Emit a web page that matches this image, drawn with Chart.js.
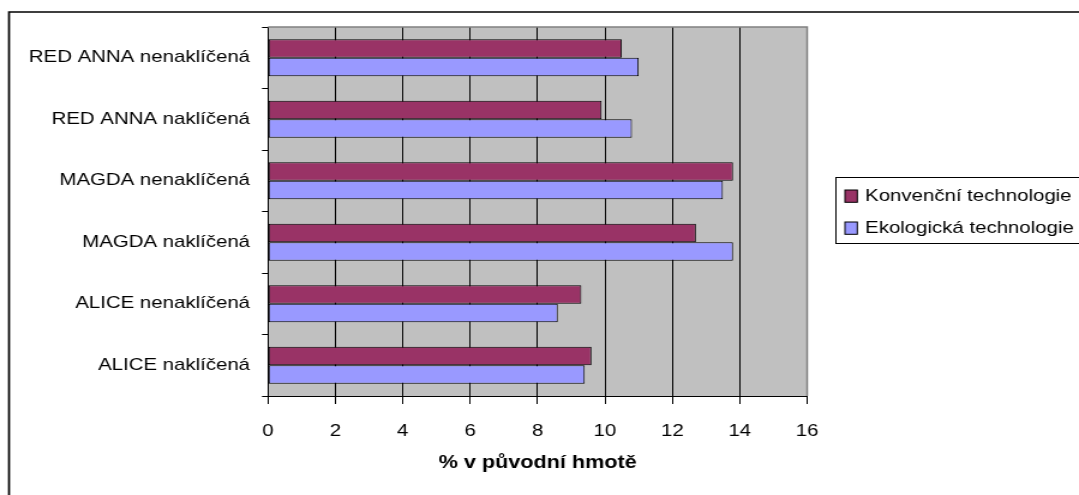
<!DOCTYPE html>
<html>
<head>
<meta charset="utf-8">
<script src="https://cdn.jsdelivr.net/npm/chart.js@4/dist/chart.umd.min.js"></script>
<style>
  html, body { margin: 0; padding: 0; background: #fff; overflow: hidden; }
  #wrap { width: 1079px; height: 495px; overflow: hidden; }
  /* the chart is laid out on a narrower canvas and widened horizontally */
  #c { display: block; transform: scaleX(1.2002); transform-origin: 0 0; }
</style>
</head>
<body>
<div id="wrap"><canvas id="c" width="899" height="495"></canvas></div>
<script>
const categories = [
  'RED ANNA nenaklíčená',
  'RED ANNA naklíčená',
  'MAGDA nenaklíčená',
  'MAGDA naklíčená',
  'ALICE nenaklíčená',
  'ALICE naklíčená'
];
const seriesNames = ['Konvenční technologie', 'Ekologická technologie'];
const konvencni = [10.5, 9.9, 13.8, 12.7, 9.3, 9.6];
const ekologicka = [11.0, 10.8, 13.5, 13.8, 8.6, 9.4];
const xMin = 0, xMax = 16, xStep = 2;
const axisTitle = '% v původní hmotě';

const FONT = "'Liberation Sans', Arial, sans-serif";
const W = 899, H = 495;

const framePlugin = {
  id: 'frame',
  beforeDraw(chart) {
    const { ctx, chartArea: a } = chart;
    ctx.save();
    ctx.fillStyle = '#fff';
    ctx.fillRect(0, 0, W, H);
    ctx.fillStyle = '#C0C0C0';
    ctx.fillRect(a.left, a.top, a.right - a.left, a.bottom - a.top);
    ctx.restore();
  },
  afterDraw(chart) {
    const { ctx, chartArea: a } = chart;
    ctx.save();
    // plot area top and right edge
    ctx.strokeStyle = '#808080';
    ctx.lineWidth = 1.5;
    ctx.beginPath();
    ctx.moveTo(a.left, a.top);
    ctx.lineTo(a.right, a.top);
    ctx.lineTo(a.right, a.bottom);
    ctx.stroke();
    // outer chart frame
    ctx.strokeStyle = '#000';
    ctx.lineWidth = 1.7;
    ctx.beginPath();
    ctx.moveTo(7.5, H + 5);
    ctx.lineTo(7.5, 12);
    ctx.lineTo(W + 5, 12);
    ctx.stroke();
    // legend
    ctx.lineWidth = 1;
    ctx.strokeRect(696.5, 177.5, 260, 66);
    ctx.font = '17px ' + FONT;
    ctx.textBaseline = 'middle';
    ctx.textAlign = 'left';
    const rows = [196, 228];
    chart.data.datasets.forEach((ds, i) => {
      const cy = rows[i];
      ctx.fillStyle = ds.backgroundColor;
      ctx.fillRect(704, cy - 6, 10.3, 12.3);
      ctx.strokeStyle = '#000';
      ctx.strokeRect(704, cy - 6, 10.3, 12.3);
      ctx.fillStyle = '#000';
      ctx.fillText(ds.label, 720.8, cy);
    });
    ctx.restore();
  }
};

new Chart(document.getElementById('c'), {
  type: 'bar',
  data: {
    labels: categories,
    datasets: [
      {
        label: seriesNames[0],
        data: konvencni,
        backgroundColor: '#993366',
        borderColor: '#000',
        borderWidth: 1,
        borderSkipped: false
      },
      {
        label: seriesNames[1],
        data: ekologicka,
        backgroundColor: '#9999FF',
        borderColor: '#000',
        borderWidth: 1,
        borderSkipped: false
      }
    ]
  },
  options: {
    indexAxis: 'y',
    responsive: false,
    animation: false,
    devicePixelRatio: 1,
    categoryPercentage: 0.6,
    barPercentage: 1.0,
    layout: { padding: { left: 0, top: 27, right: W - 672.5, bottom: 0 } },
    plugins: {
      legend: { display: false },
      tooltip: { enabled: false },
      title: { display: false }
    },
    scales: {
      x: {
        type: 'linear',
        min: xMin,
        max: xMax,
        ticks: {
          stepSize: xStep,
          color: '#000',
          padding: 17,
          font: { family: FONT, size: 17, lineHeight: 1.2 }
        },
        grid: {
          color: c => (c.tick && c.tick.value === xMax) ? '#808080' : '#000',
          lineWidth: 1,
          tickColor: '#000',
          tickLength: 8,
          drawTicks: true
        },
        border: { color: '#000', width: 1 },
        title: {
          display: true,
          text: axisTitle,
          color: '#000',
          font: { family: FONT, size: 18, weight: 'bold', lineHeight: 1.2 },
          padding: { top: 0, bottom: 21 }
        },
        afterFit(s) { s.height = 99; }
      },
      y: {
        type: 'category',
        ticks: {
          color: '#000',
          padding: 10,
          font: { family: FONT, size: 17, lineHeight: 1.2 }
        },
        grid: {
          offset: true,
          drawOnChartArea: false,
          color: '#000',
          tickColor: '#000',
          tickLength: 5
        },
        border: { color: '#000', width: 1 },
        afterFit(s) { s.width = 223.3; }
      }
    }
  },
  plugins: [framePlugin]
});
</script>
</body>
</html>
